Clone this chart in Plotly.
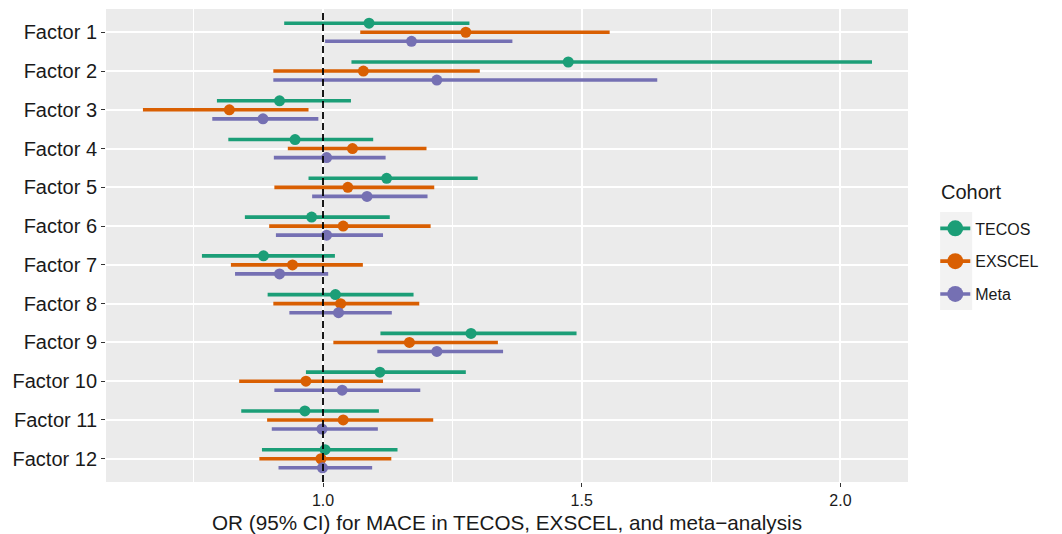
import plotly.graph_objects as go

factors = [f"Factor {i}" for i in range(1, 13)]

cohorts = ["TECOS", "EXSCEL", "Meta"]
colors = {"TECOS": "#1B9E77", "EXSCEL": "#D95F02", "Meta": "#7570B3"}

tecos_or = [1.089, 1.474, 0.916, 0.946, 1.123, 0.978, 0.885, 1.024, 1.286, 1.110, 0.965, 1.004]
tecos_lo = [0.925, 1.055, 0.795, 0.817, 0.972, 0.849, 0.766, 0.893, 1.111, 0.967, 0.842, 0.882]
tecos_hi = [1.283, 2.061, 1.054, 1.097, 1.299, 1.129, 1.023, 1.175, 1.490, 1.276, 1.108, 1.144]

exscel_or = [1.276, 1.078, 0.819, 1.057, 1.048, 1.039, 0.941, 1.034, 1.167, 0.967, 1.039, 0.996]
exscel_lo = [1.072, 0.904, 0.652, 0.932, 0.906, 0.896, 0.822, 0.904, 1.020, 0.838, 0.892, 0.877]
exscel_hi = [1.554, 1.303, 0.972, 1.200, 1.215, 1.208, 1.077, 1.186, 1.338, 1.116, 1.213, 1.132]

meta_or = [1.171, 1.220, 0.884, 1.007, 1.085, 1.007, 0.916, 1.030, 1.220, 1.037, 0.998, 0.999]
meta_lo = [1.004, 0.904, 0.786, 0.905, 0.979, 0.909, 0.830, 0.935, 1.105, 0.906, 0.901, 0.914]
meta_hi = [1.366, 1.646, 0.991, 1.121, 1.202, 1.116, 1.010, 1.133, 1.348, 1.188, 1.106, 1.095]

data = {
    "TECOS": (tecos_or, tecos_lo, tecos_hi),
    "EXSCEL": (exscel_or, exscel_lo, exscel_hi),
    "Meta": (meta_or, meta_lo, meta_hi),
}
dodge = {"TECOS": -0.233, "EXSCEL": 0.0, "Meta": 0.233}

fig = go.Figure()
for c in cohorts:
    est, lo, hi = data[c]
    ypos = [i + dodge[c] for i in range(len(factors))]
    fig.add_trace(go.Scatter(
        x=est, y=ypos, mode="markers", name=c, legendgroup=c, showlegend=False,
        marker=dict(color=colors[c], size=11, line=dict(width=0)),
        error_x=dict(type="data", symmetric=False,
                     array=[h - e for h, e in zip(hi, est)],
                     arrayminus=[e - l for e, l in zip(est, lo)],
                     width=0, thickness=3.6, color=colors[c]),
        text=factors,
        hovertemplate="%{text}<br>OR %{x:.2f}<extra>" + c + "</extra>",
    ))

# legend-only entries (point + line glyph like the reference keys)
for c in cohorts:
    fig.add_trace(go.Scatter(
        x=[None], y=[None], mode="lines+markers", name=c, legendgroup=c,
        marker=dict(color=colors[c], size=20),
        line=dict(color=colors[c], width=3.6),
        hoverinfo="skip",
    ))

# gray legend key background
fig.add_shape(type="rect", xref="paper", yref="paper",
              x0=1.040, x1=1.080, y0=0.3636, y1=0.571,
              fillcolor="#F2F2F2", line=dict(width=0), layer="below")

fig.add_shape(type="line", xref="x", yref="paper", x0=1, x1=1, y0=0, y1=1,
              line=dict(color="black", width=1.8, dash="7px,4px"), layer="above")

fig.add_annotation(text="Cohort", xref="paper", yref="paper",
                   x=1.039, y=0.613, xanchor="left", yanchor="middle",
                   showarrow=False, font=dict(size=20, color="#1a1a1a"))

# page body has an 8px margin, so the figure is sized 8px smaller to fit the window
fig.update_layout(
    width=1054, height=526,
    margin=dict(l=98, r=154, t=1, b=52, autoexpand=False),
    paper_bgcolor="white", plot_bgcolor="#EBEBEB",
    font=dict(family="Liberation Sans, Arial, sans-serif", color="#1a1a1a"),
    showlegend=True,
    legend=dict(
        font=dict(size=16, color="#1a1a1a"),
        x=1.034, xanchor="left", y=0.572, yanchor="top",
        tracegroupgap=9, traceorder="grouped",
        bgcolor="rgba(0,0,0,0)", itemsizing="trace",
    ),
    xaxis=dict(
        range=[0.5806, 2.1306], tickvals=[1.0, 1.5, 2.0], ticktext=["1.0", "1.5", "2.0"],
        showgrid=True, gridcolor="white", gridwidth=1.8,
        minor=dict(tickvals=[0.75, 1.25, 1.75], showgrid=True, gridcolor="white", gridwidth=0.9, ticks=""),
        zeroline=False, ticks="outside", ticklen=4, tickcolor="#333", tickwidth=1,
        tickfont=dict(size=16, color="#1a1a1a"), automargin=False,
        title=dict(text="OR (95% CI) for MACE in TECOS, EXSCEL, and meta\u2212analysis",
                   font=dict(size=20.7, color="#1a1a1a"), standoff=8),
        showline=False,
    ),
    yaxis=dict(
        range=[11.6, -0.6], tickvals=list(range(len(factors))), ticktext=factors,
        showgrid=True, gridcolor="white", gridwidth=1.8, zeroline=False,
        ticks="outside", ticklen=4, tickcolor="#333", tickwidth=1, automargin=False,
        tickfont=dict(size=20, color="#1a1a1a"), showline=False,
    ),
)

fig.write_html("out.html")
